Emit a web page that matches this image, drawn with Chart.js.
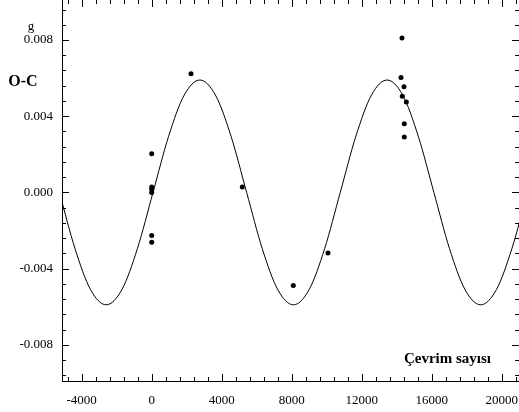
<!DOCTYPE html>
<html>
<head>
<meta charset="utf-8">
<script src="https://cdn.jsdelivr.net/npm/chart.js@4/dist/chart.umd.min.js"></script>
<style>
  body { margin: 0; background: #fff; }
  canvas { display: block; }
</style>
</head>
<body>
<canvas id="oc" width="519" height="412"></canvas>
<script>
// observed minima (cycle number, O-C in days)
const obsCycles = [0, 0, 0, 0, 0, 0, 2246, 5177, 8091, 10074, 14303, 14246, 14417, 14320, 14550, 14434, 14434];
const obsOC = [0.00203, 0.00028, 0.00016, 0.0, -0.00226, -0.00262, 0.00623, 0.00028, -0.00489, -0.00318, 0.00811, 0.00603, 0.00554, 0.00505, 0.00475, 0.00361, 0.00291];

// fitted curve
const curveCycles = [-5275, -4383, -3492, -2600, -1708, -817, 75, 967, 1858, 2750, 3642, 4533, 5425, 6317, 7208, 8100, 8992, 9883, 10775, 11667, 12558, 13450, 14342, 15233, 16125, 17017, 17908, 18800, 19692, 20583, 21475];
const curveOC = [0, -0.00295, -0.00511, -0.0059, -0.00511, -0.00295, 0, 0.00295, 0.00511, 0.0059, 0.00511, 0.00295, 0, -0.00295, -0.00511, -0.0059, -0.00511, -0.00295, 0, 0.00295, 0.00511, 0.0059, 0.00511, 0.00295, 0, -0.00295, -0.00511, -0.0059, -0.00511, -0.00295, 0];

const xTicks = [-4000, 0, 4000, 8000, 12000, 16000, 20000];
const yTicks = [-0.008, -0.004, 0.0, 0.004, 0.008];

const FONT = "'Liberation Serif', 'Times New Roman', serif";

// inward tick marks on all four sides + text labels
const frame = {
  id: 'frame',
  afterDraw(chart) {
    const {ctx, chartArea: a, scales: {x, y}} = chart;
    ctx.save();
    ctx.strokeStyle = '#000';
    ctx.lineWidth = 1;
    ctx.beginPath();
    for (let v = -4800; v <= 20800; v += 800) {
      const px = Math.round(x.getPixelForValue(v)) + 0.5;
      const len = v % 4000 === 0 ? 7 : 4;
      ctx.moveTo(px, a.bottom); ctx.lineTo(px, a.bottom - len);
      ctx.moveTo(px, a.top); ctx.lineTo(px, a.top + len);
    }
    for (let i = -12; i <= 12; i++) {
      const v = i * 0.0008;
      const py = Math.round(y.getPixelForValue(v)) + 0.5;
      const len = i % 5 === 0 ? 7 : 4;
      ctx.moveTo(a.left, py); ctx.lineTo(a.left + len, py);
      ctx.moveTo(a.right, py); ctx.lineTo(a.right - len, py);
    }
    ctx.stroke();

    ctx.fillStyle = '#000';
    ctx.textBaseline = 'middle';
    ctx.textAlign = 'center';
    ctx.font = 'bold 16px ' + FONT;
    ctx.fillText('O-C', 23, 82);
    ctx.font = '13px ' + FONT;
    ctx.fillText('g', 31, 27);
    ctx.textAlign = 'right';
    ctx.font = 'bold 15px ' + FONT;
    ctx.fillText('Çevrim sayısı', 491, 359);
    ctx.restore();
  }
};

new Chart(document.getElementById('oc'), {
  type: 'scatter',
  data: {
    datasets: [
      {
        label: 'fit',
        data: curveCycles.map((c, i) => ({x: c, y: curveOC[i]})),
        showLine: true,
        borderColor: '#000',
        borderWidth: 1,
        pointRadius: 0,
        cubicInterpolationMode: 'monotone',
      },
      {
        label: 'O-C',
        data: obsCycles.map((c, i) => ({x: c, y: obsOC[i]})),
        backgroundColor: '#000',
        borderColor: '#000',
        pointRadius: 2.5,
        borderWidth: 0,
      },
    ],
  },
  options: {
    responsive: false,
    animation: false,
    layout: { padding: 0, autoPadding: false },
    scales: {
      x: {
        type: 'linear',
        min: -5126,
        max: 20989,
        afterBuildTicks: (s) => { s.ticks = xTicks.map(v => ({value: v})); },
        afterFit: (s) => { s.height = 31; s.paddingLeft = 0; s.paddingRight = 0; },
        grid: { display: false, drawTicks: false },
        border: { display: true, color: '#000', width: 1 },
        ticks: {
          color: '#000',
          padding: 12,
          maxRotation: 0,
          autoSkip: false,
          font: { family: FONT, size: 13 },
          callback: (v) => String(v),
        },
      },
      y: {
        type: 'linear',
        min: -0.0099,
        max: 0.0101,
        afterBuildTicks: (s) => { s.ticks = yTicks.map(v => ({value: v})); },
        afterFit: (s) => { s.width = 62; s.paddingTop = 0; s.paddingBottom = 0; },
        grid: { display: false, drawTicks: false },
        border: { display: true, color: '#000', width: 1 },
        ticks: {
          color: '#000',
          padding: 9,
          autoSkip: false,
          font: { family: FONT, size: 13 },
          callback: (v) => Number(v).toFixed(3),
        },
      },
    },
    plugins: {
      legend: { display: false },
      tooltip: { enabled: false },
    },
  },
  plugins: [frame],
});
</script>
</body>
</html>
